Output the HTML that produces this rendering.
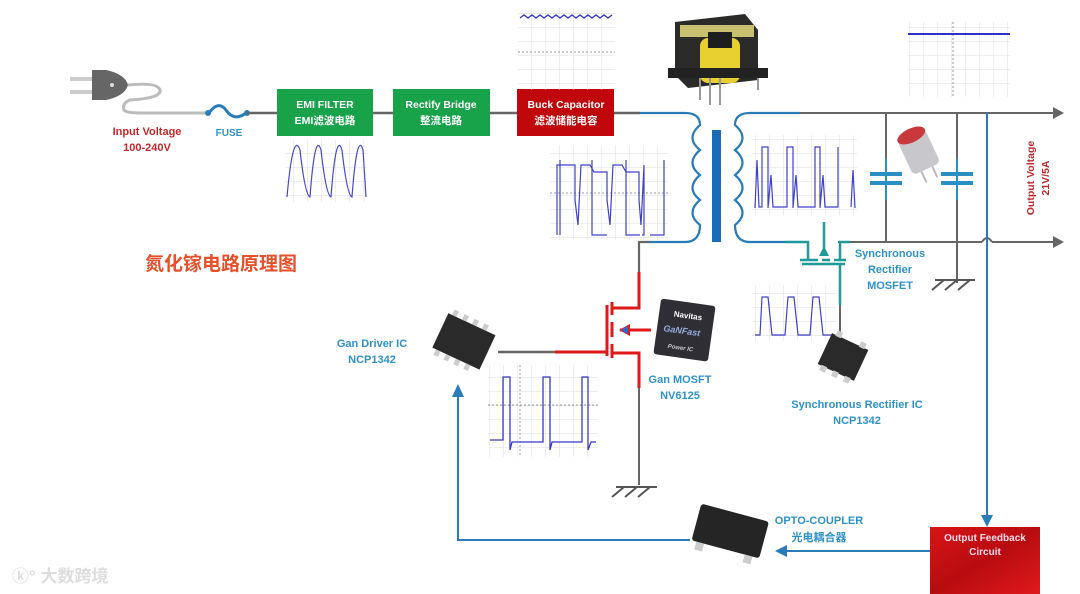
<!DOCTYPE html>
<html><head><meta charset="utf-8"><style>
html,body{margin:0;padding:0;background:#fff;}
svg{display:block;}
text{font-family:"Liberation Sans","Noto Sans CJK SC",sans-serif;font-weight:bold;}
</style></head><body>
<svg width="1080" height="594" viewBox="0 0 1080 594" xmlns="http://www.w3.org/2000/svg">
<defs>
<pattern id="grid" width="14" height="14" patternUnits="userSpaceOnUse"><path d="M14 0V14M0 14H14" stroke="#ddd" stroke-width="1" fill="none"/></pattern>
<linearGradient id="fb" x1="0" y1="0" x2="1" y2="1"><stop offset="0" stop-color="#d81418"/><stop offset="0.5" stop-color="#b80c10"/><stop offset="1" stop-color="#e0191d"/></linearGradient>
</defs>
<rect width="1080" height="594" fill="#fff"/>

<!-- plug -->
<rect x="70" y="77" width="24" height="4" fill="#ccc"/><rect x="70" y="90" width="24" height="4" fill="#ccc"/>
<path d="M92 70 L106 70 Q125 74 128 85 Q125 96 106 100 L92 100 Z" fill="#666"/>
<circle cx="112" cy="85" r="2" fill="#ddd"/>
<path d="M128 85 Q158 82 160 90 Q162 98 130 100 Q122 103 124 110 Q126 113 140 113 L205 113" stroke="#bbb" stroke-width="3" fill="none"/>
<text x="147" y="135" font-size="11" fill="#c0282c" text-anchor="middle">Input Voltage</text>
<text x="147" y="151" font-size="11" fill="#c0282c" text-anchor="middle">100-240V</text>
<!-- fuse -->
<path d="M209 113 Q218 100 226 110 Q234 122 246 113" stroke="#2a7cb8" stroke-width="3" fill="none"/>
<circle cx="208" cy="113" r="3" fill="#2a7cb8"/><circle cx="247" cy="113" r="3" fill="#2a7cb8"/>
<text x="229" y="136" font-size="10" fill="#2e92c8" text-anchor="middle">FUSE</text>
<line x1="247" y1="113" x2="640" y2="113" stroke="#666" stroke-width="2.5"/>
<!-- boxes -->
<rect x="277" y="89" width="96" height="47" fill="#18a24a"/>
<text x="325" y="108" font-size="10.5" fill="#fff" text-anchor="middle" font-weight="normal">EMI FILTER</text>
<text x="325" y="124" font-size="10.5" fill="#fff" text-anchor="middle" font-weight="normal">EMI滤波电路</text>
<rect x="393" y="89" width="97" height="47" fill="#18a24a"/>
<text x="441" y="108" font-size="10.5" fill="#fff" text-anchor="middle" font-weight="normal">Rectify Bridge</text>
<text x="441" y="124" font-size="10.5" fill="#fff" text-anchor="middle" font-weight="normal">整流电路</text>
<rect x="517" y="89" width="97" height="47" fill="#c0080c"/>
<text x="566" y="108" font-size="10.5" fill="#fff" text-anchor="middle" font-weight="normal">Buck Capacitor</text>
<text x="566" y="124" font-size="10.5" fill="#fff" text-anchor="middle" font-weight="normal">滤波储能电容</text>

<!-- waveforms -->
<rect x="285" y="140" width="82" height="62" fill="url(#grid)"/>
<path d="M287 197 Q293 130 300 150 Q305 195 310 197 Q315 130 321 150 Q326 195 331 197 Q336 130 342 150 Q347 195 352 197 Q357 130 363 150 L366 197" stroke="#4848d0" stroke-width="1.2" fill="none"/>
<rect x="518" y="8" width="97" height="82" fill="url(#grid)"/>
<line x1="518" y1="52" x2="615" y2="52" stroke="#999" stroke-dasharray="2 2"/>
<path d="M520 18 l4 -3 l4 3 l4 -3 l4 3 l4 -3 l4 3 l4 -3 l4 3 l4 -3 l4 3 l4 -3 l4 3 l4 -3 l4 3 l4 -3 l4 3 l4 -3 l4 3 l4 -3 l4 3 l4 -3 l4 3 l4 -3" stroke="#3838c8" stroke-width="1.4" fill="none"/>
<rect x="550" y="145" width="118" height="95" fill="url(#grid)"/>
<line x1="550" y1="193" x2="668" y2="193" stroke="#999" stroke-dasharray="2 2"/>
<path d="M557 235 V165 H575 V200 L578 225 L581 165 H590 L594 172 H607 V200 L610 225 L613 165 H622 L626 172 H639 V200 L641 225 L644 165 V235 H642 M592 160 V235 H607 M560 235 V160 M626 160 V235 H640 M664 160 V235 M650 235 H664 V170" stroke="#4040cc" stroke-width="1.2" fill="none"/>
<rect x="752" y="135" width="105" height="80" fill="url(#grid)"/>
<path d="M755 208 L757 160 L759 207 H762 V147 H768 V208 L771 175 L773 207 H787 V147 H793 V208 L796 175 L798 207 H815 V147 H820 V208 L823 175 L825 207 H838 V147 M851 207 L853 170 L855 208" stroke="#4040cc" stroke-width="1.2" fill="none"/>
<rect x="908" y="22" width="102" height="75" fill="url(#grid)"/>
<line x1="953" y1="22" x2="953" y2="97" stroke="#999" stroke-dasharray="2 2"/>
<line x1="908" y1="34" x2="1010" y2="34" stroke="#3030c8" stroke-width="2"/>
<rect x="752" y="285" width="84" height="56" fill="url(#grid)"/>
<path d="M755 335 H760 L762 297 H768 L772 335 H785 L788 297 H794 L798 335 H810 L813 297 H819 L823 335 H834" stroke="#4040cc" stroke-width="1.2" fill="none"/>
<rect x="488" y="365" width="110" height="92" fill="url(#grid)"/>
<line x1="488" y1="405" x2="598" y2="405" stroke="#999" stroke-dasharray="2 2"/>
<line x1="520" y1="365" x2="520" y2="457" stroke="#999" stroke-dasharray="2 2"/>
<path d="M490 440 H503 V377 H510 V450 L512 442 H543 V377 H550 V450 L552 442 H582 V377 H588 V450 L591 442 H596" stroke="#3838c8" stroke-width="1.3" fill="none"/>

<!-- transformer image -->
<polygon points="675,22 745,14 758,30 758,80 688,88 675,75" fill="#2a2a28"/>
<rect x="680" y="25" width="74" height="12" fill="#c8c070"/>
<rect x="700" y="38" width="40" height="45" rx="8" fill="#e8d030"/>
<rect x="708" y="32" width="24" height="16" fill="#1e1e1e"/>
<rect x="668" y="68" width="100" height="10" fill="#222"/>
<line x1="700" y1="78" x2="700" y2="100" stroke="#999" stroke-width="2"/><line x1="710" y1="78" x2="710" y2="105" stroke="#999" stroke-width="2"/><line x1="720" y1="78" x2="720" y2="105" stroke="#999" stroke-width="2"/><line x1="758" y1="78" x2="758" y2="90" stroke="#999" stroke-width="2"/>

<!-- primary -->
<path d="M640 113 H685 Q700 113 700 125 Q685 138 700 150 Q685 163 700 175 Q685 188 700 200 Q685 213 700 225 Q700 242 685 242 H650" stroke="#2a7cb8" stroke-width="2.2" fill="none"/>
<rect x="712" y="130" width="9" height="112" fill="#1a6cb8"/>
<path d="M800 113 H750 Q735 113 735 125 Q750 138 735 150 Q750 163 735 175 Q750 188 735 200 Q750 213 735 225 Q735 242 750 242 H785" stroke="#2a7cb8" stroke-width="2.2" fill="none"/>
<path d="M800 113 H1055" stroke="#666" stroke-width="2"/>
<polygon points="1053,107 1064,113 1053,119" fill="#666"/>
<path d="M838 242 H982 M992 242 H1055" stroke="#666" stroke-width="2"/>
<path d="M982 242 Q987 234 992 242" stroke="#666" stroke-width="2" fill="none"/>
<polygon points="1053,236 1064,242 1053,248" fill="#666"/>
<line x1="886" y1="113" x2="886" y2="242" stroke="#666" stroke-width="2"/>
<line x1="957" y1="113" x2="957" y2="283" stroke="#666" stroke-width="2"/>
<line x1="886" y1="158" x2="886" y2="200" stroke="#2a8fc4" stroke-width="2"/>
<line x1="957" y1="158" x2="957" y2="200" stroke="#2a8fc4" stroke-width="2"/>
<rect x="870" y="172" width="32" height="4" fill="#2a8fc4"/><rect x="870" y="181" width="32" height="4" fill="#2a8fc4"/>
<rect x="941" y="172" width="32" height="4" fill="#2a8fc4"/><rect x="941" y="181" width="32" height="4" fill="#2a8fc4"/>
<!-- electrolytic cap -->
<g transform="rotate(-25 918 150)"><rect x="903" y="133" width="30" height="38" rx="5" fill="#c8c8cc"/><ellipse cx="918" cy="134" rx="15" ry="7" fill="#c8383c"/><line x1="912" y1="171" x2="912" y2="183" stroke="#bbb" stroke-width="2"/><line x1="924" y1="171" x2="924" y2="183" stroke="#bbb" stroke-width="2"/></g>
<path d="M932 290 L944 280 M945 290 L957 280 M958 290 L970 280 M935 280 H975" stroke="#555" stroke-width="2" fill="none"/>
<text transform="translate(1034 178) rotate(-90)" font-size="10.5" fill="#c0282c" text-anchor="middle">Output Voltage</text>
<text transform="translate(1049 178) rotate(-90)" font-size="10.5" fill="#c0282c" text-anchor="middle">21V/5A</text>

<!-- sync mosfet -->
<path d="M785 242 H808 V260 M800 260 H818 M822 260 H830 M834 260 H846 M802 264 H845 M840 260 V242 H850 M824 222 V256 M840 264 V305" stroke="#1e9a9a" stroke-width="2.5" fill="none"/>
<polygon points="824,246 819,256 829,256" fill="#1e9a9a"/>
<line x1="840" y1="305" x2="840" y2="335" stroke="#666" stroke-width="2"/>
<text x="890" y="257" font-size="11" fill="#2e92c8" text-anchor="middle">Synchronous</text>
<text x="890" y="273" font-size="11" fill="#2e92c8" text-anchor="middle">Rectifier</text>
<text x="890" y="289" font-size="11" fill="#2e92c8" text-anchor="middle">MOSFET</text>
<!-- SR IC chip -->
<g transform="rotate(25 843 357)"><rect x="823" y="340" width="40" height="34" fill="#2a2a2a"/><rect x="827" y="335" width="6" height="6" fill="#ccc"/><rect x="853" y="335" width="6" height="6" fill="#ccc"/><rect x="827" y="373" width="6" height="6" fill="#ccc"/><rect x="840" y="373" width="6" height="6" fill="#ccc"/><rect x="853" y="373" width="6" height="6" fill="#ccc"/></g>
<text x="857" y="408" font-size="11" fill="#2e92c8" text-anchor="middle">Synchronous Rectifier IC</text>
<text x="857" y="424" font-size="11" fill="#2e92c8" text-anchor="middle">NCP1342</text>

<!-- GaN mosfet -->
<path d="M650 242 H639 V272" stroke="#666" stroke-width="2.2" fill="none"/>
<path d="M639 272 V308 H612 M607 305 V356 M612 302 V315 M612 322 V337 M612 344 V358 M612 353 H639 V388 M555 352 H607 M651 330 H620" stroke="#e01818" stroke-width="3" fill="none"/>
<polygon points="619,330 630,324 630,336" fill="#e01818"/><polygon points="621,330 628,326 628,334" fill="#2a6cc8"/>
<line x1="639" y1="388" x2="639" y2="485" stroke="#666" stroke-width="2"/>
<path d="M612 497 L624 487 M625 497 L637 487 M638 497 L650 487 M616 487 H657" stroke="#555" stroke-width="2" fill="none"/>
<line x1="498" y1="352" x2="555" y2="352" stroke="#666" stroke-width="2.5"/>
<g transform="rotate(8 684 330)"><rect x="657" y="302" width="55" height="56" rx="3" fill="#2e2e34"/><text x="686" y="318" font-size="8" fill="#fff" text-anchor="middle">Navitas</text><text x="682" y="334" font-size="9" fill="#9ad" text-anchor="middle" font-style="italic">GaNFast</text><text x="683" y="350" font-size="6" fill="#ccc" text-anchor="middle" font-style="italic">Power IC</text></g>
<text x="680" y="383" font-size="11" fill="#2e92c8" text-anchor="middle">Gan MOSFT</text>
<text x="680" y="399" font-size="11" fill="#2e92c8" text-anchor="middle">NV6125</text>

<!-- driver chip -->
<g transform="rotate(25 463 341)"><rect x="438" y="322" width="52" height="38" fill="#2a2a2a"/><g fill="#ccc"><rect x="442" y="316" width="5" height="6"/><rect x="453" y="316" width="5" height="6"/><rect x="464" y="316" width="5" height="6"/><rect x="475" y="316" width="5" height="6"/><rect x="442" y="360" width="5" height="6"/><rect x="453" y="360" width="5" height="6"/><rect x="464" y="360" width="5" height="6"/><rect x="475" y="360" width="5" height="6"/></g></g>
<text x="372" y="347" font-size="11" fill="#2e92c8" text-anchor="middle">Gan Driver IC</text>
<text x="372" y="363" font-size="11" fill="#2e92c8" text-anchor="middle">NCP1342</text>

<!-- feedback -->
<line x1="987" y1="113" x2="987" y2="517" stroke="#2a7cb8" stroke-width="2"/>
<polygon points="981,515 993,515 987,527" fill="#2a7cb8"/>
<rect x="930" y="527" width="110" height="67" fill="url(#fb)"/>
<text x="985" y="541" font-size="10" fill="#fde" text-anchor="middle">Output Feedback</text>
<text x="985" y="555" font-size="10" fill="#fde" text-anchor="middle">Circuit</text>
<line x1="930" y1="551" x2="785" y2="551" stroke="#2a7cb8" stroke-width="2"/>
<polygon points="775,551 787,545 787,557" fill="#2a7cb8"/>
<g transform="rotate(15 730 532)"><rect x="695" y="512" width="70" height="38" rx="3" fill="#252525"/><rect x="700" y="550" width="8" height="8" fill="#ccc"/><rect x="750" y="550" width="8" height="8" fill="#ccc"/></g>
<path d="M690 540 H458 V395" stroke="#2a7cb8" stroke-width="2" fill="none"/>
<polygon points="452,397 458,384 464,397" fill="#2a7cb8"/>
<text x="819" y="524" font-size="11" fill="#2e92c8" text-anchor="middle">OPTO-COUPLER</text>
<text x="819" y="541" font-size="11" fill="#2e92c8" text-anchor="middle" font-weight="normal">光电耦合器</text>

<!-- title -->
<text x="145" y="270" font-size="19" fill="#e6502a">氮化镓电路原理图</text>
<text x="12" y="582" font-size="17" fill="#ddd">ⓚ° 大数跨境</text>
</svg>
</body></html>
